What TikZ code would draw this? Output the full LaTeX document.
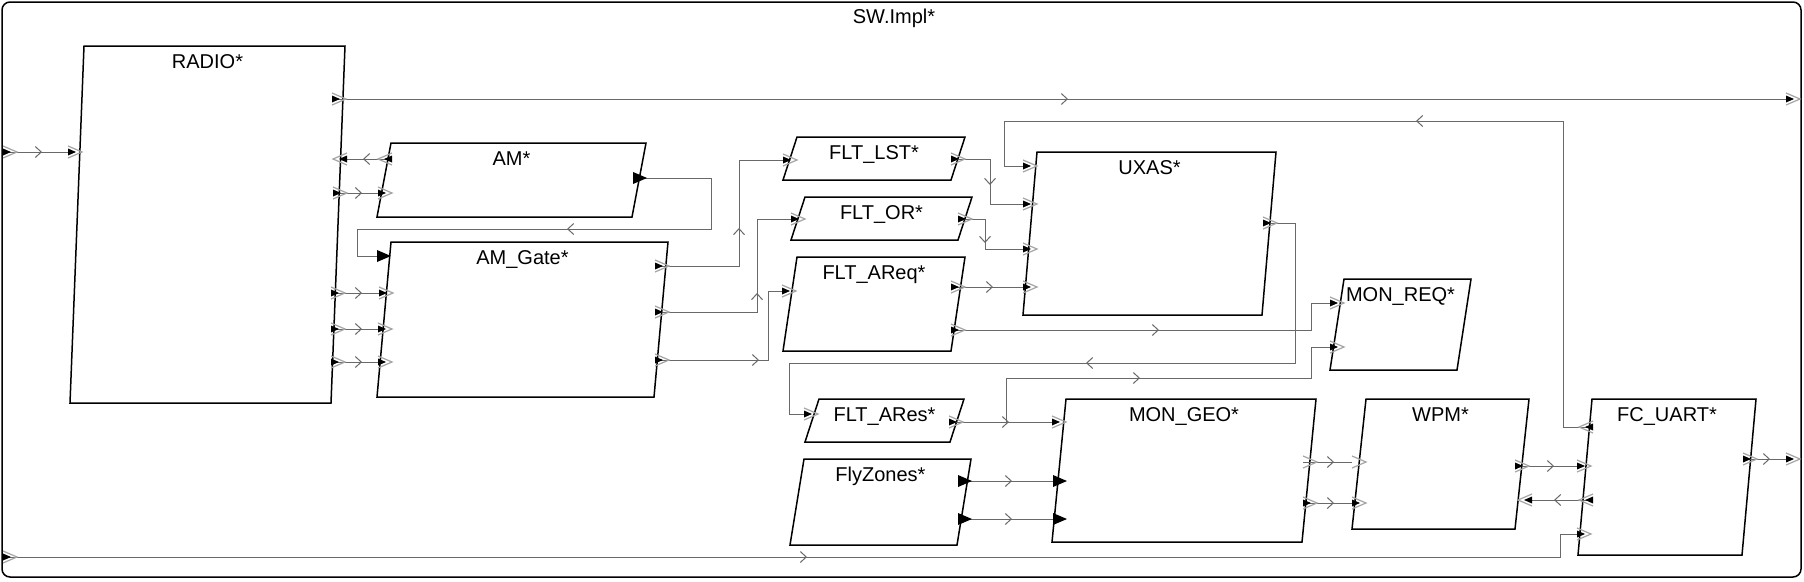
\documentclass[tikz,border=0pt]{standalone}
\usepackage{fontspec}
\setmainfont{Liberation Sans}
\usepackage{xcolor}
\definecolor{wire}{RGB}{105,105,105}
\definecolor{portgray}{RGB}{165,165,165}
\usepackage{tikz}
\usetikzlibrary{arrows.meta,decorations.markings}

% component: name, bottom-left x, top y, width, height, label
\newcommand{\compbox}[6]{%
  \draw[comp] (#2+14,#3) -- ++(#4,0) -- ++(-14,#5) -- ++(-#4,0) -- cycle;
  \node[complabel] (#1) at ({#2+7+#4/2},{#3+22}) {#6};
}

\begin{document}
\begin{tikzpicture}[x=1pt, y=-1pt,
  comp/.style={draw=black, line width=1.5pt},
  complabel/.style={anchor=base, inner sep=0pt, font=\fontsize{20}{24}\selectfont},
  conn/.style={draw=wire, line width=1pt},
  flow/.style={postaction={decorate, decoration={markings,
    mark=at position #1pt with {\arrow[wire, line width=1pt]{Straight Barb[length=6pt, width=11pt]}}}}},
  edport/.pic={\draw[portgray, line width=1.2pt] (0,-6) -- (14,0) -- (0,6);
               \fill[black] (0,-3.5) -- (8,0) -- (0,3.5) -- cycle;},
  dport/.pic={\fill[black] (0,-6) -- (14,0) -- (0,6) -- cycle;},
  evport/.pic={\draw[portgray, line width=1.2pt] (0,-6) -- (14,0) -- (0,6);}
]
\useasboundingbox (0,0) rectangle (1804,581);

% system frame
\draw[comp, rounded corners=8pt] (2,2) rectangle (1801,577);
\node[complabel] (sw) at (894,23) {SW.Impl*};

% components
\compbox{radio}{70}{46}{261}{357}{RADIO*}
\compbox{am}{377}{143}{255}{74}{AM*}
\compbox{amgate}{377}{242}{277}{155}{AM\_Gate*}
\compbox{fltlst}{783}{137}{168}{43}{FLT\_LST*}
\compbox{fltor}{791}{197}{167}{43}{FLT\_OR*}
\compbox{fltareq}{783}{257}{168}{94}{FLT\_AReq*}
\compbox{uxas}{1023}{152}{239}{163}{UXAS*}
\compbox{fltares}{805}{399}{145}{43}{FLT\_ARes*}
\compbox{flyzones}{790}{459}{167}{86}{FlyZones*}
\compbox{mongeo}{1052}{399}{250}{143}{MON\_GEO*}
\compbox{monreq}{1330}{279}{127}{91}{MON\_REQ*}
\compbox{wpm}{1352}{399}{163}{130}{WPM*}
\compbox{fcuart}{1578}{399}{164}{156}{FC\_UART*}

% ports
\coordinate (sw_in1) at (3,152);
\coordinate (sw_in2) at (3,557);
\coordinate (sw_out1) at (1786,99);
\coordinate (sw_out2) at (1786,459);
\coordinate (radio_in) at (68,152);
\coordinate (radio_o1) at (332,99);
\coordinate (radio_p2) at (347,159);
\coordinate (radio_o3) at (333,193);
\coordinate (radio_o4) at (331,293);
\coordinate (radio_o5) at (331,329);
\coordinate (radio_o6) at (331,362);
\coordinate (am_p1) at (392,159);
\coordinate (am_i2) at (378,193);
\coordinate (am_do) at (633,178);
\coordinate (amg_di) at (377,256);
\coordinate (amg_i1) at (379,293);
\coordinate (amg_i2) at (378,329);
\coordinate (amg_i3) at (378,362);
\coordinate (amg_o1) at (655,266);
\coordinate (amg_o2) at (655,312);
\coordinate (amg_o3) at (655,360);
\coordinate (fltlst_in) at (783,160);
\coordinate (fltlst_out) at (951,159);
\coordinate (fltor_in) at (791,219);
\coordinate (fltor_out) at (958,219);
\coordinate (fltareq_in) at (782,291);
\coordinate (fltareq_o1) at (951,287);
\coordinate (fltareq_o2) at (951,330);
\coordinate (uxas_in1) at (1023,166);
\coordinate (uxas_in2) at (1023,204);
\coordinate (uxas_in3) at (1023,249);
\coordinate (uxas_in4) at (1023,287);
\coordinate (uxas_out) at (1263,223);
\coordinate (fltares_in) at (804,414);
\coordinate (fltares_out) at (949,422);
\coordinate (fz_do1) at (958,481);
\coordinate (fz_do2) at (958,519);
\coordinate (mg_in) at (1052,422);
\coordinate (mg_di1) at (1053,481);
\coordinate (mg_di2) at (1053,519);
\coordinate (mg_eo1) at (1303,462);
\coordinate (mg_o2) at (1303,503);
\coordinate (mr_in1) at (1330,303);
\coordinate (mr_in2) at (1330,347);
\coordinate (wpm_ei1) at (1352,462);
\coordinate (wpm_i2) at (1352,503);
\coordinate (wpm_o) at (1515,466);
\coordinate (wpm_p) at (1532,500);
\coordinate (fc_i1) at (1577,466);
\coordinate (fc_p1) at (1593,427);
\coordinate (fc_o2) at (1593,500);
\coordinate (fc_i2) at (1577,534);
\coordinate (fc_o1) at (1743,459);

% connections
\draw[conn, flow=39] (sw_in1) -- (radio_in);
\draw[conn, flow=736] (radio_o1) -- (sw_out1);
\draw[conn, flow=29] (am_p1) -- (radio_p2);
\draw[conn, flow=29] (radio_o3) -- (am_i2);
\draw[conn, flow=31] (radio_o4) -- (amg_i1);
\draw[conn, flow=31] (radio_o5) -- (amg_i2);
\draw[conn, flow=31] (radio_o6) -- (amg_i3);
\draw[conn, flow=273] (am_do) -- (711,178) -- (711,229) -- (357,229) -- (357,256) -- (amg_di);
\draw[conn, flow=122] (amg_o1) -- (739,266) -- (739,160) -- (fltlst_in);
\draw[conn, flow=121] (amg_o2) -- (757,312) -- (757,219) -- (fltor_in);
\draw[conn, flow=104] (amg_o3) -- (768,360) -- (768,291) -- (fltareq_in);
\draw[conn, flow=65] (fltlst_out) -- (990,159) -- (990,204) -- (uxas_in2);
\draw[conn, flow=51] (fltor_out) -- (985,219) -- (985,249) -- (uxas_in3);
\draw[conn, flow=42] (fltareq_o1) -- (uxas_in4);
\draw[conn, flow=208] (fltareq_o2) -- (1311,330) -- (1311,303) -- (mr_in1);
\draw[conn, flow=381] (uxas_out) -- (1295,223) -- (1295,363) -- (789,363) -- (789,414) -- (fltares_in);
\draw[conn, flow=60] (fltares_out) -- (mg_in);
\draw[conn, flow=235] (fltares_out) -- (1006,422) -- (1006,378) -- (1311,378) -- (1311,347) -- (mr_in2);
\draw[conn, flow=54] (fz_do1) -- (mg_di1);
\draw[conn, flow=54] (fz_do2) -- (mg_di2);
\draw[conn, flow=31] (mg_eo1) -- (wpm_ei1);
\draw[conn, flow=31] (mg_o2) -- (wpm_i2);
\draw[conn, flow=39] (wpm_o) -- (fc_i1);
\draw[conn, flow=39] (fc_o2) -- (wpm_p);
\draw[conn, flow=483] (fc_p1) -- (1563,427) -- (1563,121) -- (1004,121) -- (1004,166) -- (uxas_in1);
\draw[conn, flow=804] (sw_in2) -- (1560,557) -- (1560,534) -- (fc_i2);
\draw[conn, flow=27] (fc_o1) -- (sw_out2);

% port marks
\foreach \p in {sw_in1, sw_in2, sw_out1, sw_out2, radio_in, radio_o1, radio_o3,
  radio_o4, radio_o5, radio_o6, am_i2, amg_i1, amg_i2, amg_i3, amg_o1, amg_o2,
  amg_o3, fltlst_in, fltlst_out, fltor_in, fltor_out, fltareq_in, fltareq_o1,
  fltareq_o2, uxas_in1, uxas_in2, uxas_in3, uxas_in4, uxas_out, fltares_in,
  fltares_out, mg_in, mg_o2, mr_in1, mr_in2, wpm_i2, wpm_o, fc_i1, fc_i2, fc_o1}
  \pic at (\p) {edport};
\foreach \p in {radio_p2, am_p1, wpm_p, fc_p1, fc_o2}
  \pic[rotate=180] at (\p) {edport};
\foreach \p in {am_do, amg_di, fz_do1, fz_do2, mg_di1, mg_di2}
  \pic at (\p) {dport};
\foreach \p in {mg_eo1, wpm_ei1}
  \pic at (\p) {evport};
\end{tikzpicture}
\end{document}
